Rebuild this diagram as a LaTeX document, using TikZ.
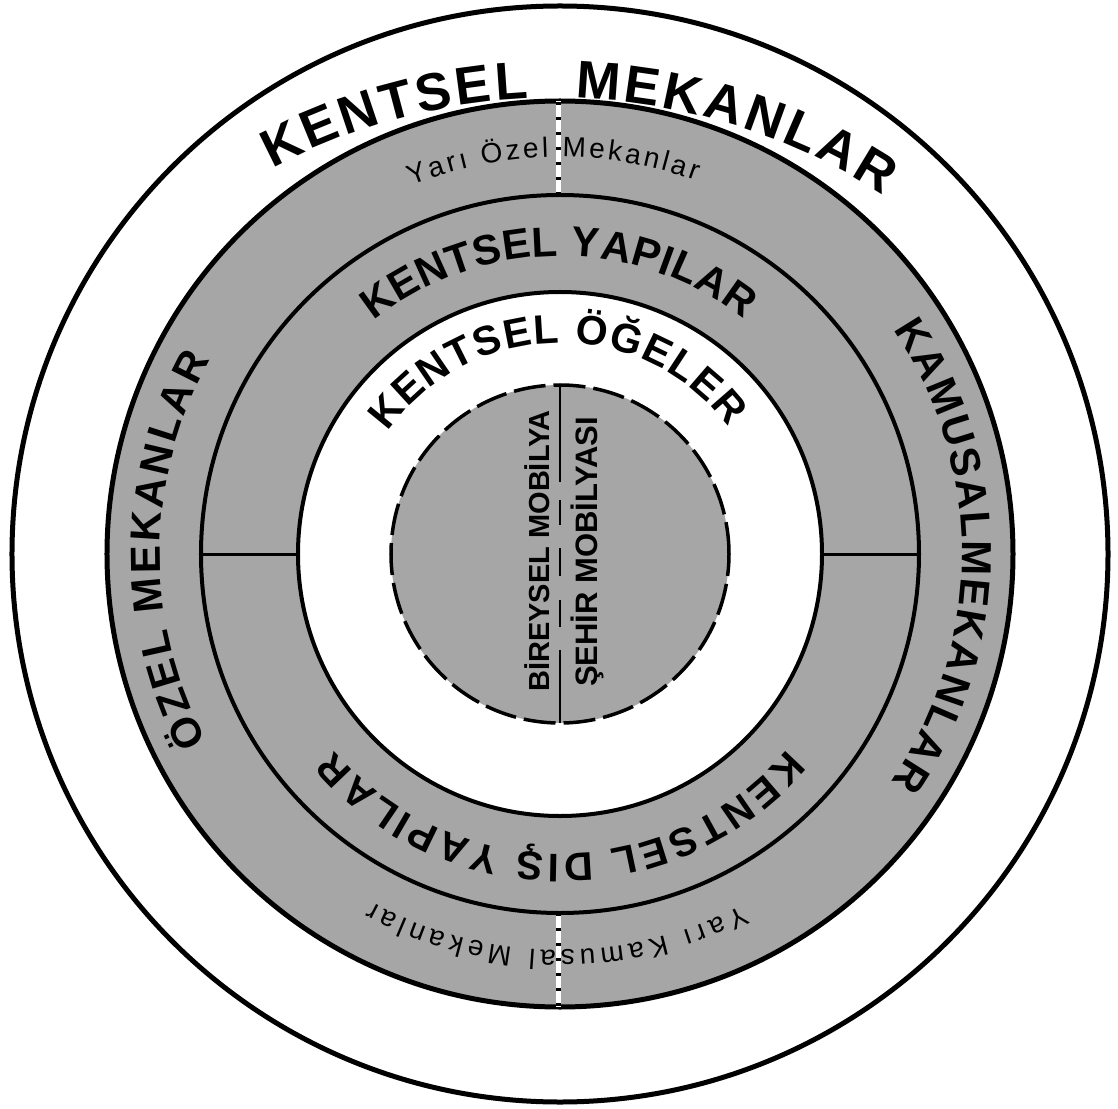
\documentclass[tikz,border=0pt]{standalone}
\usepackage{fontspec}
\setmainfont{Liberation Sans}
\usetikzlibrary{decorations.text,calc}
\definecolor{bandgray}{RGB}{166,166,166}
\begin{document}
\begin{tikzpicture}[x=0.5pt,y=0.5pt,
  disc/.style={circle,inner sep=0pt,outer sep=0pt,minimum size=#1pt},
  divider/.style={draw=black,line width=1.5pt},
  sepline/.style={line width=2.5pt},
  coretext/.style={rotate=90,inner sep=0pt,font=\fontsize{#1}{#1}\selectfont\bfseries}]
\useasboundingbox (-560,-554) rectangle (558,554);
% rings
\node[disc=548, draw=black, line width=2.5pt, fill=white] (outer) at (0,0) {};
\node[disc=453, draw=black, line width=2.5pt, fill=bandgray] (ring2) at (0,0) {};
\node[disc=359, draw=black, line width=2pt] (ring3) at (0,0) {};
\node[disc=262, draw=black, line width=2pt, fill=white] (ring4) at (0,0) {};
\node[disc=169, draw=black, line width=1.75pt, dash pattern=on 16pt off 4pt, fill=bandgray] (core) at (0,0) {};
% horizontal dividers
\draw[divider] (ring3.west) -- (ring4.west);
\draw[divider] (ring4.east) -- (ring3.east);
% curved texts
\path[decorate,decoration={text along path,text align={fit to path},
  text={|\fontsize{26.5}{28}\selectfont\bfseries|KENTSEL{\kern20pt}MEKANLAR}}]
  ($(-5,-146)+(118:602)$) arc[start angle=118,end angle=57,radius=602];
\path[decorate,decoration={text along path,text align={fit to path},
  text={|\fontsize{14}{14}\selectfont|Yarı Özel Mekanlar}}]
  (112:397) arc[start angle=112,end angle=70,radius=397];
\path[decorate,decoration={text along path,text align={fit to path},
  text={|\fontsize{21}{21}\selectfont\bfseries|KENTSEL YAPILAR}}]
  (128.6:298) arc[start angle=128.6,end angle=52,radius=298];
\path[decorate,decoration={text along path,text align={fit to path},
  text={|\fontsize{20.5}{21}\selectfont\bfseries|KENTSEL ÖĞELER}}]
  (144.7:211) arc[start angle=144.7,end angle=37,radius=211];
\path[decorate,decoration={text along path,text align={fit to path},
  text={|\fontsize{21}{21}\selectfont\bfseries|ÖZEL MEKANLAR}}]
  (208:400) arc[start angle=208,end angle=151,radius=400];
\path[decorate,decoration={text along path,text align={fit to path},
  text={|\fontsize{21}{21}\selectfont\bfseries|KAMUSALMEKANLAR}}]
  (34:402) arc[start angle=34,end angle=-34.5,radius=402];
\path[decorate,decoration={text along path,text align={fit to path},
  text={|\fontsize{20}{20}\selectfont\bfseries|KENTSEL DIŞ YAPILAR}}]
  (-40.7:300) arc[start angle=-40.7,end angle=-139,radius=300];
\path[decorate,decoration={text along path,text align={fit to path},
  text={|\fontsize{14}{14}\selectfont|Yarı Kamusal Mekanlar}}]
  (-62.6:396) arc[start angle=-62.6,end angle=-118.3,radius=396];
% dotted separators
\foreach \a/\b in {ring3.north/ring2.north, ring3.south/ring2.south}{
  \draw[sepline, white] ([xshift=-1pt]\a) -- ([xshift=-1pt]\b);
  \draw[sepline, black, dash pattern=on 1.5pt off 6pt] ([xshift=-1pt]\a) -- ([xshift=-1pt]\b);
}
% core
\draw[line width=1.25pt, dash pattern=on 48.5pt off 9pt on 12.5pt off 11.5pt on 14pt off 12pt on 13.5pt off 11.5pt on 36.5pt off 20pt] (core.north) -- (core.south);
\node[coretext=14.5] (bireysel) at (-23,3) {BİREYSEL MOBİLYA};
\node[coretext=15.5] (sehir) at (27,2) {ŞEHİR MOBİLYASI};
\end{tikzpicture}
\end{document}
